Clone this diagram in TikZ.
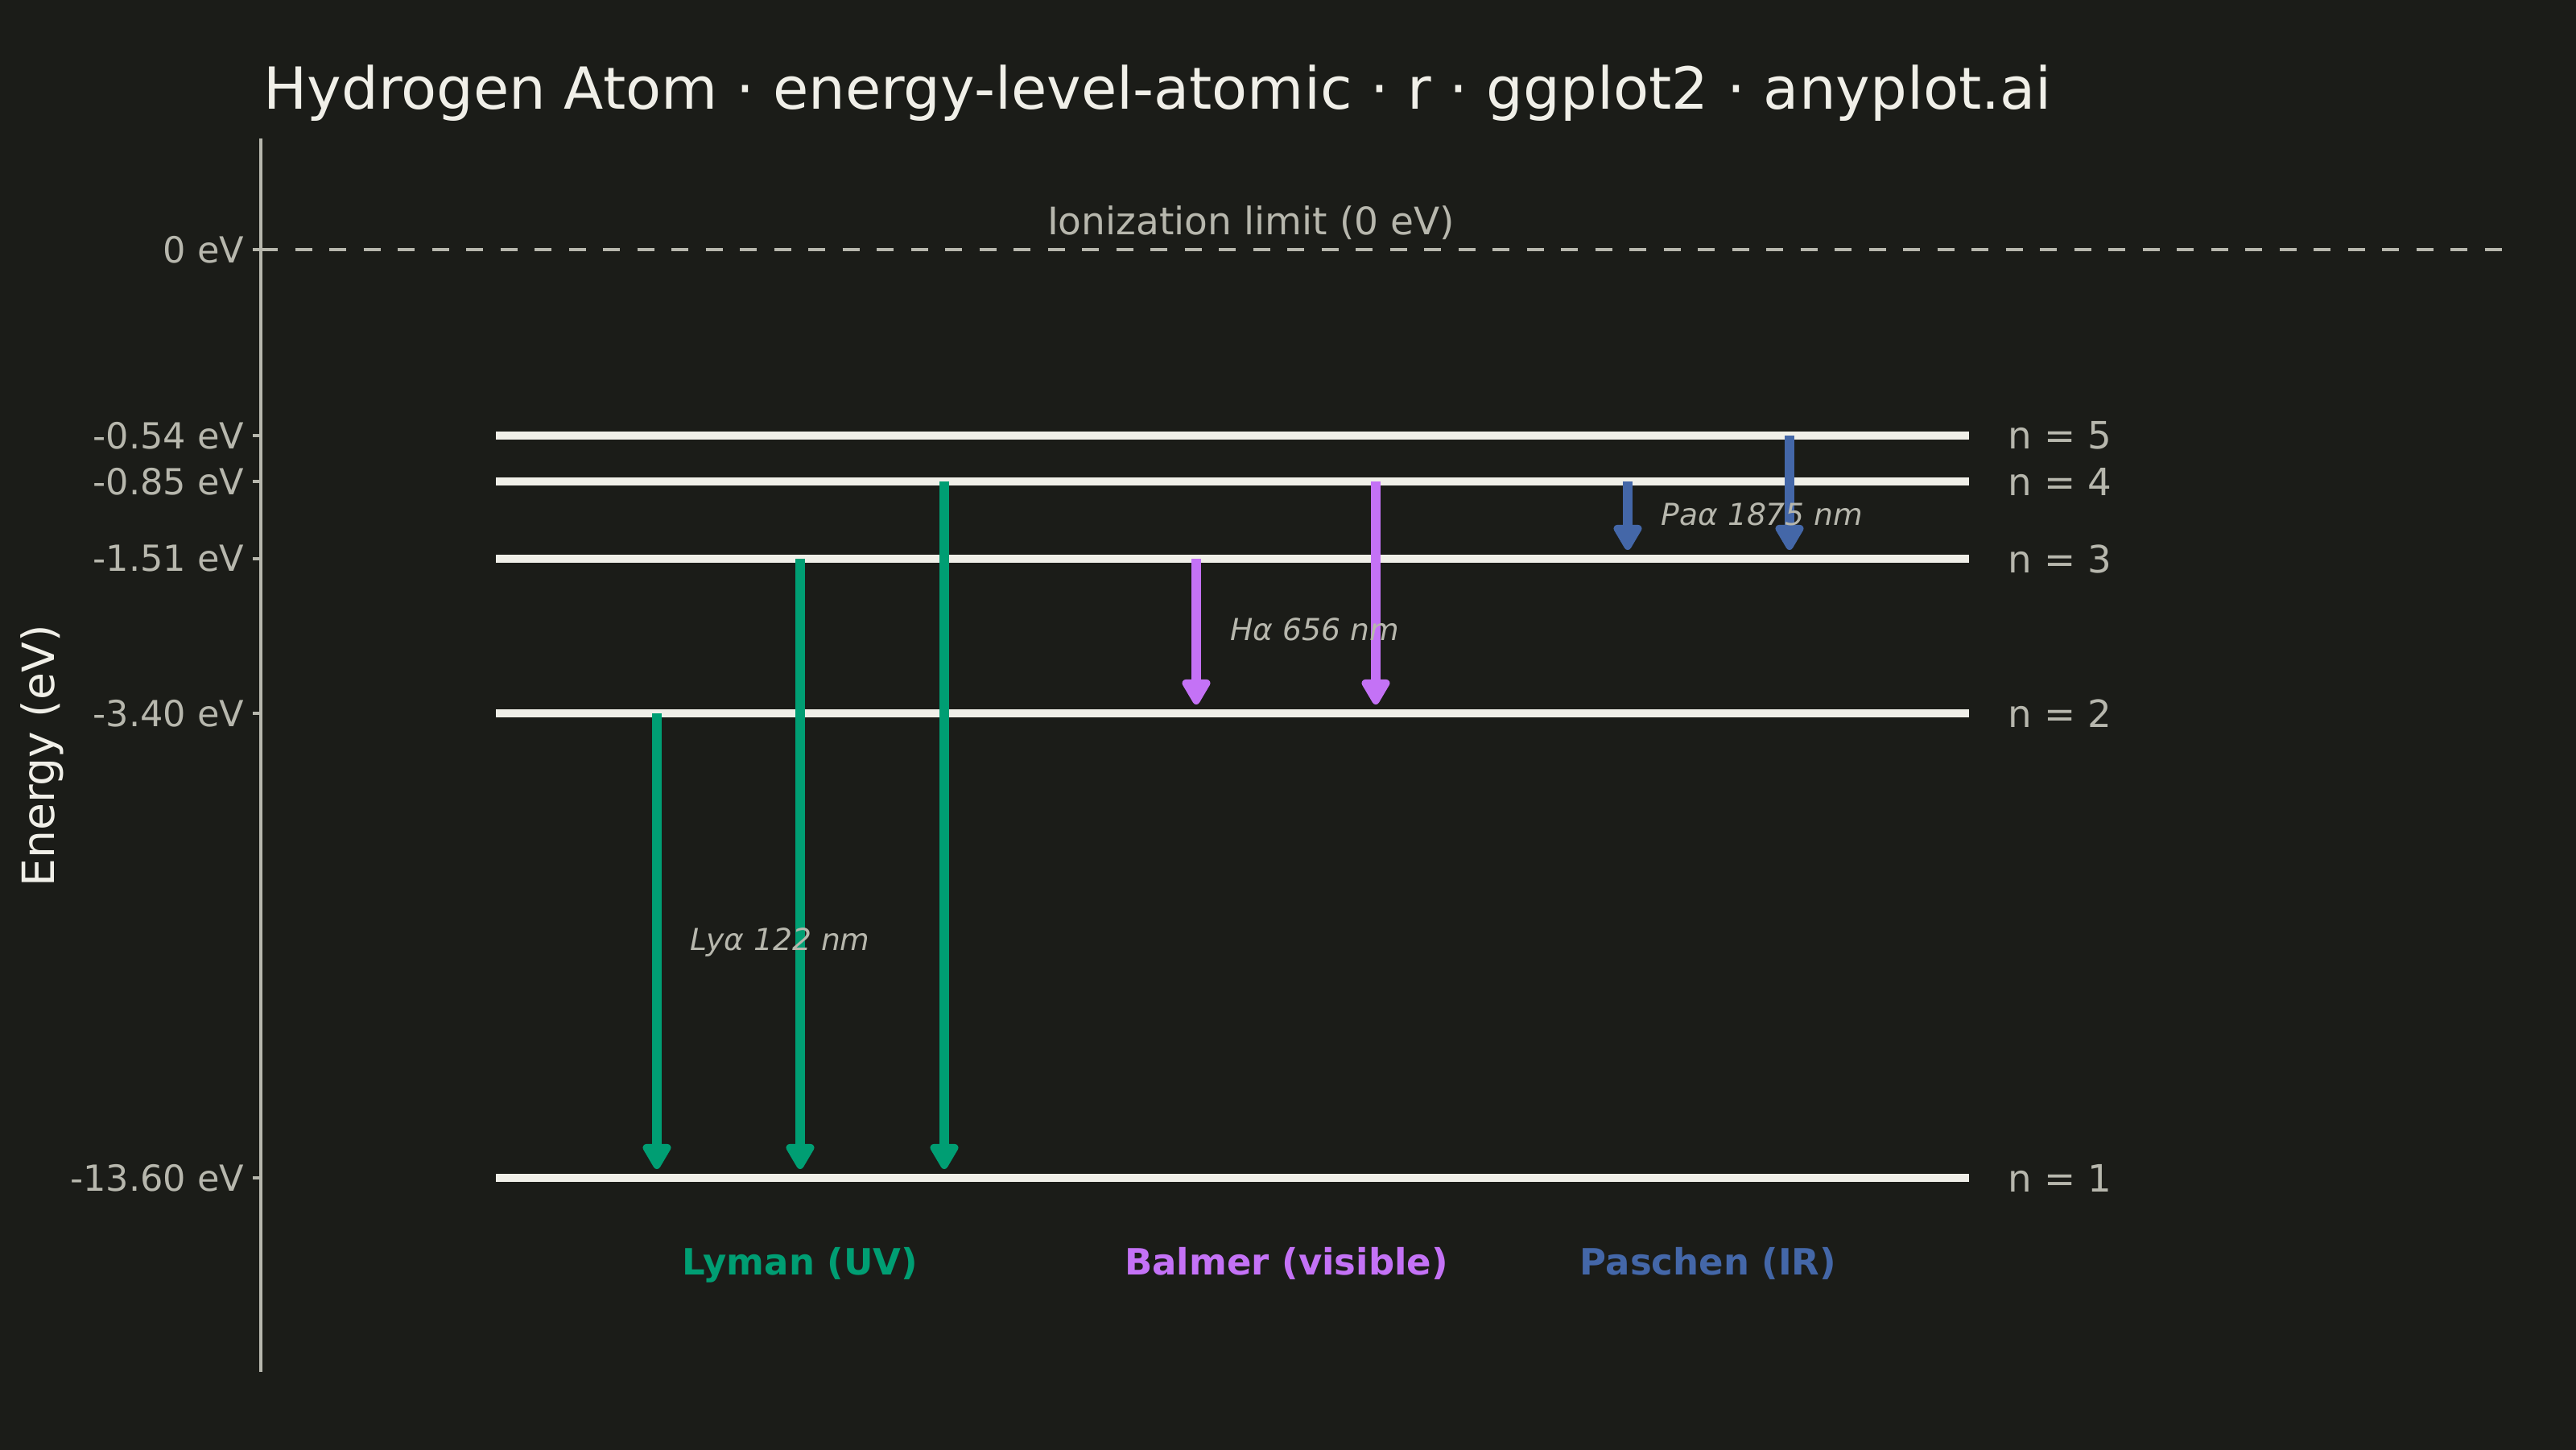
\documentclass[tikz,border=0pt]{standalone}
\usepackage{fontspec}
\setmainfont{DejaVu Sans}
\usepackage{xcolor}
\usetikzlibrary{positioning,arrows.meta}
\definecolor{bgc}{RGB}{27,28,24}
\definecolor{inkc}{RGB}{240,239,232}
\definecolor{softc}{RGB}{183,183,173}
\definecolor{lymanc}{RGB}{0,158,115}
\definecolor{balmerc}{RGB}{196,114,246}
\definecolor{paschenc}{RGB}{68,103,168}

\begin{document}
\begin{tikzpicture}[
  level/.style={draw=inkc,line width=3.1pt},
  trans/.style={line width=3.6pt,-{Triangle[length=3.6mm,width=3.9mm,round]},shorten >=1.1mm},
  nlab/.style={inner sep=0pt,text=softc,font=\fontsize{13.3}{16}\selectfont},
  ticklab/.style={inner sep=0pt,text=softc,font=\fontsize{12.7}{15}\selectfont},
  tlab/.style={inner sep=0pt,text=softc,font=\fontsize{10.7}{13}\selectfont\itshape},
  series/.style={inner sep=0pt,font=\fontsize{12.8}{15}\selectfont\bfseries}
]
\useasboundingbox (0,0) rectangle (32,-18);
\fill[bgc] (-0.1,0.1) rectangle (32.1,-18.1);
% --- title and axis ---
\node[inner sep=0pt,anchor=base west,text=inkc,font=\fontsize{20.5}{24}\selectfont] (title) at (3.27,-1.35) {Hydrogen Atom · energy-level-atomic · r · ggplot2 · anyplot.ai};
\coordinate (axtop) at (3.24,-1.72);
\coordinate (axbot) at (3.24,-17.04);
\draw[softc,line width=1.4pt] (axtop) -- (axbot);
\node[inner sep=0pt,rotate=90,text=inkc,font=\fontsize{15.7}{18}\selectfont] (ylab) at (0.52,-9.39) {Energy (eV)};
% --- ionization limit ---
\coordinate (ion0) at (3.24,-3.10);
\coordinate (ion1) at (31.18,-3.10);
\draw[softc,line width=1.4pt,dash pattern=on 0.21cm off 0.215cm] (ion0) -- (ion1);
\draw[softc,line width=1.2pt] (ion0) -- ++(-0.1,0) coordinate (tk0);
\node[ticklab,left=0.1cm of tk0] {0 eV};
\node[inner sep=0pt,anchor=base,text=softc,font=\fontsize{13.4}{16}\selectfont] (ionlab) at (15.54,-2.91) {Ionization limit (0 eV)};
% --- levels ---
\foreach \n/\y/\e in {1/14.63/-13.60,2/8.86/-3.40,3/6.94/-1.51,4/5.98/-0.85,5/5.41/-0.54}{
  \coordinate (l\n) at (6.16,-\y);
  \coordinate (r\n) at (24.46,-\y);
  \draw[level] (l\n) -- (r\n);
  \node[nlab,right=0.48cm of r\n] (n\n) {n = \n};
  \draw[softc,line width=1.2pt] (3.24,-\y) -- (3.14,-\y) coordinate (tk\n);
  \node[ticklab,left=0.1cm of tk\n] (e\n) {\e\ eV};
}
% --- transitions ---
\foreach \x/\a/\b/\c in {8.16/2/1/lymanc,9.94/3/1/lymanc,11.73/4/1/lymanc,
  14.86/3/2/balmerc,17.09/4/2/balmerc,20.22/4/3/paschenc,22.23/5/3/paschenc}{
  \draw[trans,\c] (\x,0 |- l\a) -- (\x,0 |- l\b);
}
\node[tlab,anchor=base west] (lya) at (8.57,-11.80) {Lyα 122 nm};
\node[tlab,anchor=base west] (ha) at (15.28,-7.95) {Hα 656 nm};
\node[tlab,anchor=base west] (paa) at (20.63,-6.52) {Paα 1875 nm};
% series names
\node[series,anchor=base,text=lymanc] (ly) at (9.94,-15.83) {Lyman (UV)};
\node[series,anchor=base,text=balmerc] (ba) at (15.98,-15.83) {Balmer (visible)};
\node[series,anchor=base,text=paschenc] (pa) at (21.22,-15.83) {Paschen (IR)};
\end{tikzpicture}
\end{document}
